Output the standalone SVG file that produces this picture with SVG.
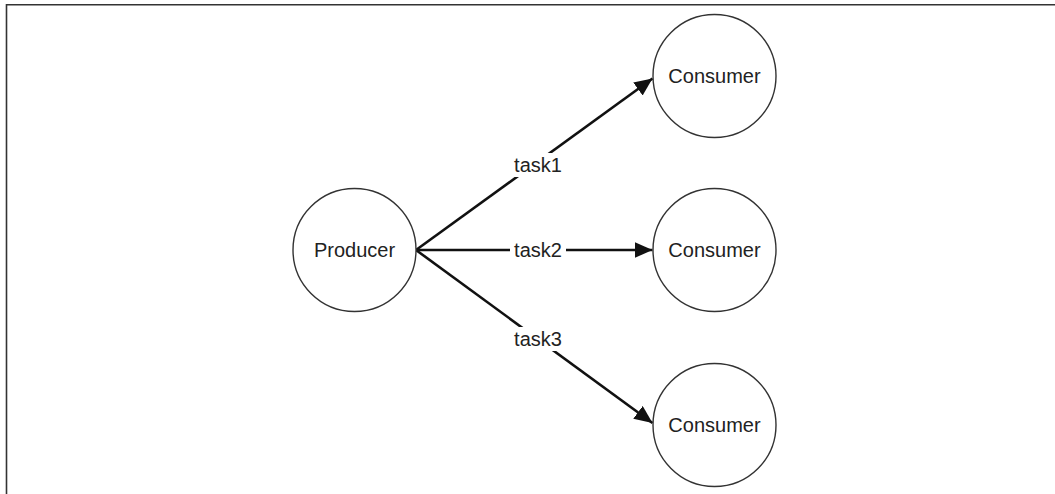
<svg xmlns="http://www.w3.org/2000/svg" width="1055" height="494" viewBox="0 0 1055 494">
<defs>
<style>
.node{fill:#fff;stroke:#333;stroke-width:1.4}
.lbl{font-family:"Liberation Sans",Arial,sans-serif;font-size:20px;fill:#222;text-anchor:middle;dominant-baseline:central}
.edge{stroke:#111;stroke-width:2.6;fill:none;marker-end:url(#arr)}
.bg{fill:#fff}
</style>
<marker id="arr" markerUnits="userSpaceOnUse" markerWidth="19" markerHeight="17" refX="18" refY="8" orient="auto">
<path d="M0,0 L18,8 L0,16 z" fill="#111"/>
</marker>
</defs>
<rect width="1055" height="494" fill="#fff"/>
<path d="M6.5,494 V4.7 H1055" fill="none" stroke="#333" stroke-width="1.6"/>
<g id="connectors">
<line class="edge" x1="416" y1="250" x2="652.5" y2="78.5"/>
<line class="edge" x1="416" y1="250" x2="652.5" y2="250"/>
<line class="edge" x1="416" y1="250" x2="652.5" y2="423"/>
<rect class="bg" x="510" y="153" width="56" height="24"/>
<text class="lbl" x="538" y="165" font-size="21">task1</text>
<rect class="bg" x="510" y="238" width="56" height="24"/>
<text class="lbl" x="538" y="250" font-size="21">task2</text>
<rect class="bg" x="510" y="327" width="56" height="24"/>
<text class="lbl" x="538" y="339" font-size="21">task3</text>
</g>
<g id="producer">
<circle class="node" cx="354.5" cy="250" r="61.5"/>
<text class="lbl" x="354.5" y="250">Producer</text>
</g>
<g id="consumer1">
<circle class="node" cx="714.5" cy="76" r="61.5"/>
<text class="lbl" x="714.5" y="76">Consumer</text>
</g>
<g id="consumer2">
<circle class="node" cx="714.5" cy="250" r="61.5"/>
<text class="lbl" x="714.5" y="250">Consumer</text>
</g>
<g id="consumer3">
<circle class="node" cx="714.5" cy="425" r="61.5"/>
<text class="lbl" x="714.5" y="425">Consumer</text>
</g>
</svg>
